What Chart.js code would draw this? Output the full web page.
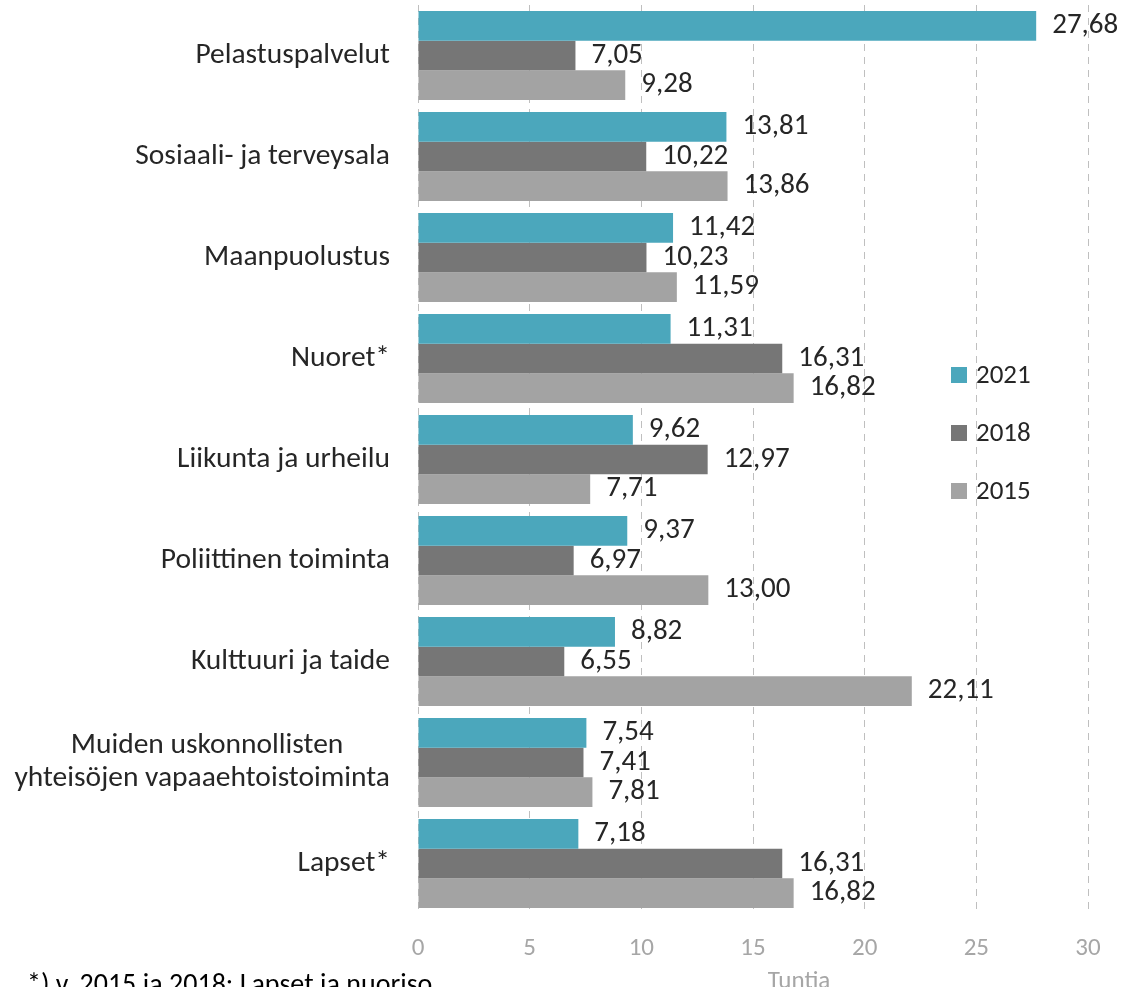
<!DOCTYPE html>
<html>
<head>
<meta charset="utf-8">
<script src="https://cdn.jsdelivr.net/npm/chart.js@4/dist/chart.umd.min.js"></script>
<style>
  html, body { margin: 0; padding: 0; background: #fff; }
  #wrap { position: relative; width: 1125px; height: 987px; }
</style>
</head>
<body>
<div id="wrap"><canvas id="mainChart" width="1125" height="987"></canvas></div>
<script>
const categories = [
    'Pelastuspalvelut',
    'Sosiaali- ja terveysala',
    'Maanpuolustus',
    'Nuoret*',
    'Liikunta ja urheilu',
    'Poliittinen toiminta',
    'Kulttuuri ja taide',
    ['Muiden uskonnollisten\u00a0\u00a0\u00a0\u00a0\u00a0\u00a0\u00a0', 'yhteisöjen vapaaehtoistoiminta'],
    'Lapset*',
];
const years = ['2021', '2018', '2015'];
const values2021 = [27.68, 13.81, 11.42, 11.31, 9.62, 9.37, 8.82, 7.54, 7.18];
const values2018 = [7.05, 10.22, 10.23, 16.31, 12.97, 6.97, 6.55, 7.41, 16.31];
const values2015 = [9.28, 13.86, 11.59, 16.82, 7.71, 13.0, 22.11, 7.81, 16.82];
const xTicks = [0, 5, 10, 15, 20, 25, 30];
const colors = ['#4ba7bc', '#767676', '#a3a3a3'];
const axisTitle = 'Tuntia';
const footnote = '*) v. 2015 ja 2018: Lapset ja nuoriso';

const fontFamily = "Carlito, Calibri, Lato, 'Open Sans', sans-serif";

// value labels at the end of each bar
const valueLabels = {
    id: 'valueLabels',
    afterDatasetsDraw(chart) {
        const ctx = chart.ctx;
        ctx.save();
        ctx.font = '29px ' + fontFamily;
        ctx.fillStyle = '#262626';
        ctx.textAlign = 'left';
        ctx.textBaseline = 'middle';
        chart.data.datasets.forEach((ds, i) => {
            chart.getDatasetMeta(i).data.forEach((bar, j) => {
                const txt = ds.data[j].toFixed(2).replace('.', ',');
                ctx.fillText(txt, bar.x + 16, bar.y);
            });
        });
        ctx.restore();
    },
};

// legend on the right, axis title and the footnote
const extras = {
    id: 'extras',
    afterDraw(chart) {
        const ctx = chart.ctx;
        ctx.save();
        ctx.font = '27px ' + fontFamily;
        ctx.textBaseline = 'middle';
        chart.data.datasets.forEach((ds, i) => {
            const y = 375 + i * 58;
            ctx.fillStyle = ds.backgroundColor;
            ctx.fillRect(951, y - 8, 16, 16);
            ctx.fillStyle = '#262626';
            ctx.fillText(ds.label, 976, y + 1);
        });
        ctx.font = '25px ' + fontFamily;
        ctx.fillStyle = '#a6a6a6';
        ctx.textAlign = 'center';
        ctx.fillText(axisTitle, 799, 982);
        ctx.font = '28px ' + fontFamily;
        ctx.fillStyle = '#000';
        ctx.textAlign = 'left';
        ctx.fillText(footnote, 27, 986);
        ctx.restore();
    },
};

const config = {
    type: 'bar',
    data: {
        labels: categories,
        datasets: [
            { label: years[0], data: values2021, backgroundColor: colors[0] },
            { label: years[1], data: values2018, backgroundColor: colors[1] },
            { label: years[2], data: values2015, backgroundColor: colors[2] },
        ],
    },
    options: {
        indexAxis: 'y',
        responsive: false,
        animation: false,
        layout: { padding: { top: 5, right: 37, left: 0, bottom: 0 } },
        datasets: {
            bar: { categoryPercentage: 0.88, barPercentage: 1.0 },
        },
        plugins: {
            legend: { display: false },
            tooltip: { enabled: false },
        },
        scales: {
            x: {
                min: 0,
                max: 30,
                afterBuildTicks: (scale) => {
                    scale.ticks = xTicks.map((v) => ({ value: v }));
                },
                grid: {
                    color: '#bfbfbf',
                    lineWidth: 1,
                    drawTicks: false,
                },
                border: { display: false, dash: [7, 6] },
                ticks: {
                    color: '#a6a6a6',
                    font: { size: 25, family: fontFamily },
                    padding: 20,
                },
                afterFit: (scale) => {
                    scale.height = 73;
                    scale.paddingLeft = 0;
                    scale.paddingRight = 0;
                },
            },
            y: {
                grid: { display: false },
                border: { display: false },
                ticks: {
                    color: '#262626',
                    font: { size: 29.5, family: fontFamily, lineHeight: 1.12 },
                    padding: 20,
                },
                afterFit: (scale) => {
                    scale.width = 418;
                    scale.paddingTop = 0;
                    scale.paddingBottom = 0;
                },
            },
        },
    },
    plugins: [valueLabels, extras],
};

const ctx = document.getElementById('mainChart').getContext('2d');
const chart = new Chart(ctx, config);
</script>
</body>
</html>
